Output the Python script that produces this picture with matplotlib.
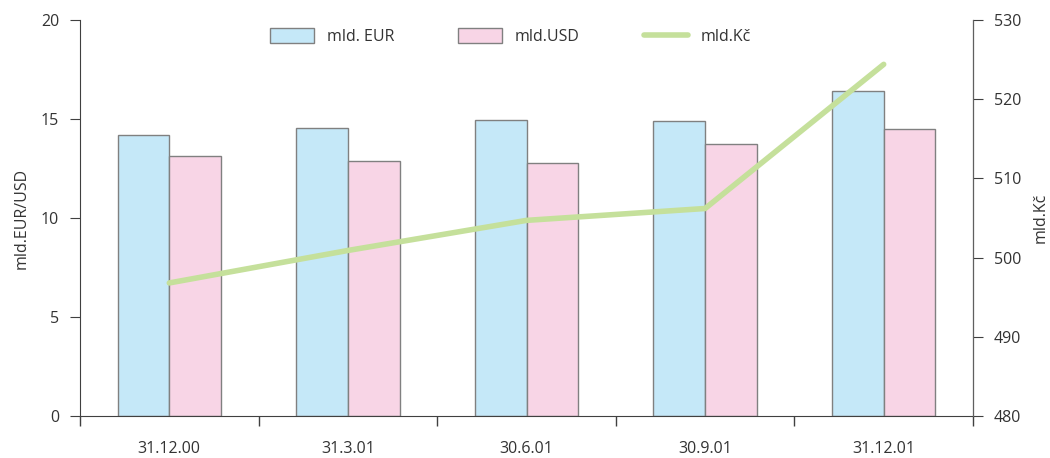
import matplotlib
matplotlib.use("Agg")
import matplotlib.pyplot as plt
import numpy as np

plt.rcParams['font.family'] = ['Open Sans', 'DejaVu Sans']

categories = ["31.12.00", "31.3.01", "30.6.01", "30.9.01", "31.12.01"]
eur = [14.2, 14.55, 14.95, 14.9, 16.4]
usd = [13.15, 12.9, 12.8, 13.75, 14.5]
czk = [496.8, 500.9, 504.7, 506.2, 524.4]

fig = plt.figure(figsize=(10.5, 4.58), dpi=100)
ax = fig.add_axes([80/1050, 42/458, 893/1050, 396/458])
ax2 = ax.twinx()

x = np.arange(len(categories))
w = 0.29
edge = "#808080"
b1 = ax.bar(x - w/2, eur, w, color="#c5e8f8", edgecolor=edge, linewidth=1, label="mld. EUR", zorder=2)
b2 = ax.bar(x + w/2, usd, w, color="#f8d5e6", edgecolor=edge, linewidth=1, label="mld.USD", zorder=2)
l1, = ax2.plot(x, czk, color="#c5e09b", linewidth=4, solid_capstyle="round", label="mld.Kč", zorder=3)

ax.set_xlim(-0.5, 4.5)
ax.set_ylim(0, 20)
ax.set_yticks([0, 5, 10, 15, 20])
ax2.set_ylim(480, 530)
ax2.set_yticks([480, 490, 500, 510, 520, 530])

ax.set_xticks(np.arange(-0.5, 5, 1))
ax.set_xticklabels([])
ax.set_xticks(x, minor=True)
ax.set_xticklabels(categories, minor=True)
ax.tick_params(axis='x', which='major', length=7, direction='out', color='#404040', width=1)
ax.tick_params(axis='x', which='minor', length=0, pad=18, labelsize=11.5, labelcolor='#333333')
ax.tick_params(axis='y', length=7, direction='out', color='#404040', labelsize=11.5, labelcolor='#333333', pad=8)
ax2.tick_params(axis='y', length=7, direction='out', color='#404040', labelsize=11.5, labelcolor='#333333', pad=8)

for a in (ax, ax2):
    a.spines['top'].set_visible(False)
for s in ['left', 'bottom']:
    ax.spines[s].set_color('#404040')
ax2.spines['right'].set_color('#606060')
ax2.spines['left'].set_visible(False)
ax2.spines['bottom'].set_visible(False)

ax.set_ylabel("mld.EUR/USD", fontsize=11.5, color='#333333', labelpad=8)
ax2.set_ylabel("mld.Kč", fontsize=11.5, color='#333333', labelpad=8)

ax.legend([b1, b2, l1], ["mld. EUR", "mld.USD", "mld.Kč"], ncol=3, frameon=False,
          loc='upper center', bbox_to_anchor=(0.482, 1.015), fontsize=11.5, handlelength=2.75,
          handleheight=1.0, columnspacing=4.0, labelcolor='#333333')

fig.savefig("out.png", dpi=100)
